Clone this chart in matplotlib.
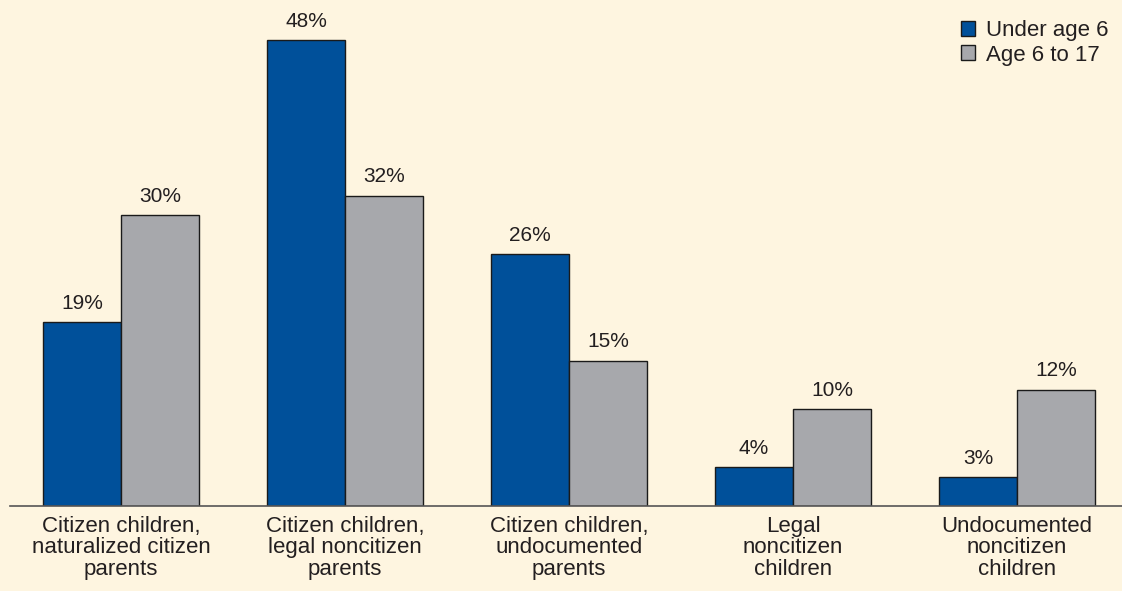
import matplotlib
matplotlib.use("Agg")
import matplotlib.pyplot as plt
import numpy as np

plt.rcParams['font.family'] = ['Liberation Sans', 'DejaVu Sans']

categories = ["Citizen children,\nnaturalized citizen\nparents",
              "Citizen children,\nlegal noncitizen\nparents",
              "Citizen children,\nundocumented\nparents",
              "Legal\nnoncitizen\nchildren",
              "Undocumented\nnoncitizen\nchildren"]
under_6 = [19, 48, 26, 4, 3]
age_6_17 = [30, 32, 15, 10, 12]
series_names = ["Under age 6", "Age 6 to 17"]

BG = "#FEF5E0"
BLUE = "#00509A"
GRAY = "#A7A8AC"
TXT = "#231F20"


def main():
    fig = plt.figure(figsize=(11.22, 5.91), dpi=100, facecolor=BG)
    ax = fig.add_axes([10 / 1122, 85 / 591, 1112 / 1122, 506 / 591])
    ax.set_facecolor(BG)

    x = np.arange(len(categories))
    w = 78 / 224
    b1 = ax.bar(x - w / 2, under_6, w, color=BLUE, edgecolor="#1a1a1a",
                linewidth=1.0, label=series_names[0])
    b2 = ax.bar(x + w / 2, age_6_17, w, color=GRAY, edgecolor="#1a1a1a",
                linewidth=1.0, label=series_names[1])

    for bars in (b1, b2):
        for r in bars:
            h = r.get_height()
            ax.annotate("%d%%" % h, (r.get_x() + r.get_width() / 2, h),
                        xytext=(0, 9.5), textcoords="offset points",
                        ha="center", va="baseline", fontsize=15, color=TXT)

    ax.set_xlim(-111 / 224, 4 + 105 / 224)
    ax.set_ylim(0, 506 / 9.7)

    for s in ["top", "right", "left"]:
        ax.spines[s].set_visible(False)
    ax.spines["bottom"].set_color("#555555")
    ax.spines["bottom"].set_linewidth(1.2)
    ax.set_yticks([])
    ax.set_xticks(x)
    ax.set_xticklabels(categories, fontsize=16, color=TXT, linespacing=1.03)
    ax.tick_params(axis="x", length=0, pad=7)

    leg = ax.legend(loc="upper right", bbox_to_anchor=(1.0, 1.0 - 7 / 506),
                    frameon=False, fontsize=16, handlelength=0.65,
                    handleheight=0.65, handletextpad=0.5, labelspacing=0.15,
                    borderaxespad=0.2)
    for t in leg.get_texts():
        t.set_color(TXT)

    plt.savefig("out.png", dpi=100, facecolor=BG)
    plt.close()


if __name__ == '__main__':
    main()
